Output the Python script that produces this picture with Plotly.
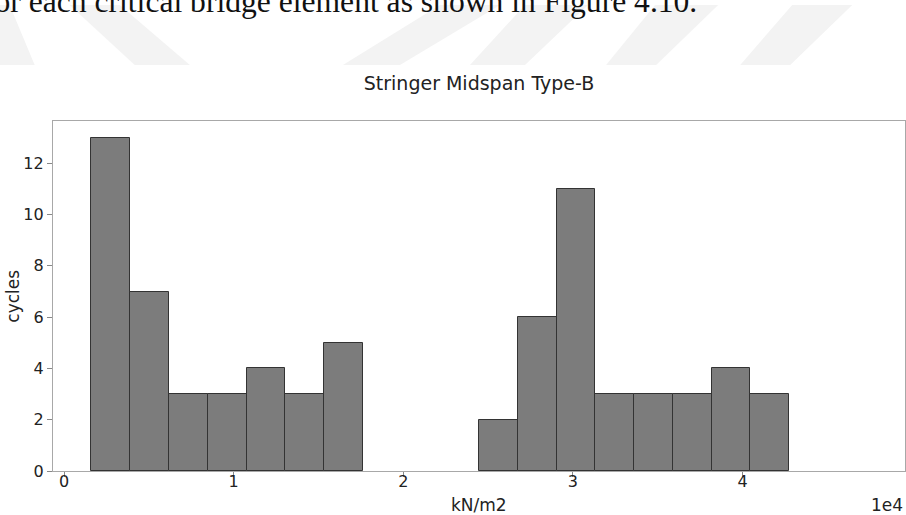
import plotly.graph_objects as go

# ---- data ----
bin_edges = [1617, 3902, 6188, 8473, 10759, 13044, 15329, 17615, 19900, 22186,
             24471, 26757, 29042, 31327, 33613, 35898, 38184, 40469, 42755]
counts = [13, 7, 3, 3, 4, 3, 5, 0, 0, 0, 2, 6, 11, 3, 3, 3, 4, 3]
x_tick_vals = [0, 10000, 20000, 30000, 40000]
x_tick_text = ["0", "1", "2", "3", "4"]
y_tick_vals = [0, 2, 4, 6, 8, 10, 12]

centers = [(a + b) / 2 for a, b in zip(bin_edges[:-1], bin_edges[1:])]
widths = [b - a for a, b in zip(bin_edges[:-1], bin_edges[1:])]
edge_widths = [1 if c > 0 else 0 for c in counts]

W, H = 906, 515
L, R, T, B = 53.3, 904.7, 121, 470.7

fig = go.Figure()
fig.add_trace(go.Bar(
    x=centers, y=counts, width=widths,
    marker=dict(color="#7c7c7c", line=dict(color="#333333", width=edge_widths)),
    showlegend=False,
))

def px(xp):
    return (xp - L) / (R - L)

def py(yp):
    return (B - yp) / (B - T)

# faint watermark stripes of the scanned page (decoration)
stripes = [
    [(-40, 5), (10, 5), (35, 65), (-20, 65)],
    [(70, 5), (120, 5), (190, 65), (135, 65)],
    [(440, 5), (500, 5), (400, 65), (343, 65)],
    [(525, 5), (588, 5), (525, 65), (470, 65)],
    [(655, 5), (718, 5), (656, 65), (606, 65)],
    [(792, 5), (852, 5), (790, 65), (740, 65)],
]
shapes = []
for poly in stripes:
    path = "M " + " L ".join(f"{px(a):.4f},{py(b):.4f}" for a, b in poly) + " Z"
    shapes.append(dict(type="path", xref="paper", yref="paper", path=path,
                       fillcolor="#f3f3f3", line=dict(width=0), layer="below"))

font = "DejaVu Sans"
annotations = [
    dict(text="for each critical bridge element as shown in Figure 4.10.",
         xref="paper", yref="paper", x=px(699), y=py(21),
         xanchor="right", yanchor="bottom", showarrow=False,
         font=dict(family="Liberation Serif", size=31.6, color="#111111")),
    dict(text="cycles", xref="paper", yref="paper", x=px(13), y=0.5,
         xanchor="center", yanchor="middle", textangle=-90, showarrow=False,
         font=dict(family=font, size=17, color="#222222")),
    dict(text="kN/m2", xref="paper", yref="paper", x=0.5, y=py(505),
         xanchor="center", yanchor="middle", showarrow=False,
         font=dict(family=font, size=17, color="#222222")),
    dict(text="1e4", xref="paper", yref="paper", x=px(905), y=py(505),
         xanchor="right", yanchor="middle", showarrow=False,
         font=dict(family=font, size=17, color="#222222")),
]

axis_common = dict(showline=True, linecolor="#a8a8a8", linewidth=1.2, mirror=True,
                   ticks="outside", ticklen=5, tickcolor="#888888", tickwidth=1,
                   showgrid=False, zeroline=False,
                   tickfont=dict(family=font, size=16, color="#222222"))

fig.update_layout(
    width=W, height=H,
    margin=dict(l=L, r=W - R, t=T, b=H - B),
    paper_bgcolor="white", plot_bgcolor="white",
    bargap=0,
    title=dict(text="Stringer Midspan Type-B", x=(L + R) / 2 / W, xanchor="center",
               y=1 - 83 / H, yanchor="middle",
               font=dict(family=font, size=19, color="#222222")),
    xaxis=dict(range=[-650, 49580], tickvals=x_tick_vals, ticktext=x_tick_text,
               ticklabelstandoff=-9, **axis_common),
    yaxis=dict(range=[0, 13.65], tickvals=y_tick_vals, **axis_common),
    shapes=shapes,
    annotations=annotations,
)

fig.write_html("out.html")
